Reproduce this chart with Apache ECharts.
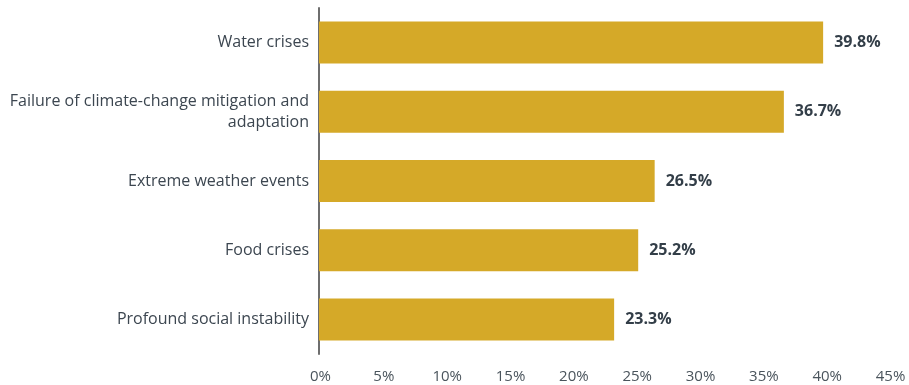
<!DOCTYPE html>
<html><head><meta charset="utf-8">
<script src="https://cdn.jsdelivr.net/npm/echarts@6/dist/echarts.min.js"></script>
<style>html,body{margin:0;padding:0;background:#fff}#c{width:909px;height:385px}</style>
</head><body><div id="c"></div>
<script>
const categories = ["Water crises", "Failure of climate-change mitigation and\nadaptation", "Extreme weather events", "Food crises", "Profound social instability"];
const values = [39.8, 36.7, 26.5, 25.2, 23.3];
const xTicks = [0, 5, 10, 15, 20, 25, 30, 35, 40, 45];

const chart = echarts.init(document.getElementById('c'));
chart.setOption({
  animation: false,
  grid: { left: 319, right: 20, top: 8, bottom: 31, containLabel: false },
  xAxis: {
    type: 'value', min: xTicks[0], max: xTicks[xTicks.length - 1], interval: 5,
    axisLine: { show: false }, axisTick: { show: false }, splitLine: { show: false },
    axisLabel: { formatter: '{value}%', color: '#4a545c', fontSize: 15, fontFamily: 'Open Sans', margin: 15, padding: [0, 0, 0, 3] }
  },
  yAxis: {
    type: 'category', data: categories, inverse: true,
    axisLine: { show: true, lineStyle: { color: '#6e6e6e', width: 2 } },
    axisTick: { show: false },
    axisLabel: { color: '#3c4650', fontSize: 16, fontFamily: 'Open Sans', margin: 10, lineHeight: 21, align: 'right' }
  },
  series: [{
    type: 'bar', data: values, barWidth: 42,
    itemStyle: { color: '#D5A928' },
    label: { show: true, position: 'right', distance: 11, formatter: p => p.value.toFixed(1) + '%',
      color: '#333e48', fontWeight: 'bold', fontSize: 16, fontFamily: 'Open Sans' }
  }]
});
</script></body></html>
